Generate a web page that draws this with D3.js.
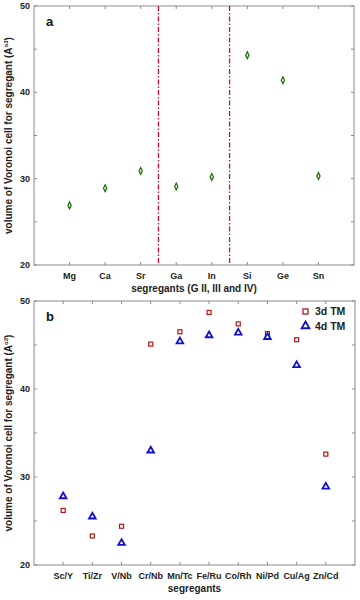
<!DOCTYPE html>
<html><head><meta charset="utf-8">
<script src="https://cdn.jsdelivr.net/npm/d3@7"></script>
<style>body{margin:0;background:#fff}svg{display:block}text{font-family:Arial,"Liberation Sans",sans-serif;font-weight:bold}</style>
</head><body><svg id="c" width="360" height="600"></svg>
<script>
const catsA = ["Mg","Ca","Sr","Ga","In","Si","Ge","Sn"];
const valsA = [26.9,28.9,30.9,29.1,30.2,44.3,41.4,30.3];
const dividersA = [3.5,5.5];
const catsB = ["Sc/Y","Ti/Zr","V/Nb","Cr/Nb","Mn/Tc","Fe/Ru","Co/Rh","Ni/Pd","Cu/Ag","Zn/Cd"];
const vals3d = [26.2,23.3,24.4,45.1,46.5,48.7,47.4,46.3,45.6,32.6];
const vals4d = [27.8,25.5,22.5,33.0,45.4,46.1,46.4,45.9,42.7,28.9];
const yTicks = [20,25,30,35,40,45,50];
const yLabels = [20,30,40,50];

const svg = d3.select("#c");
const axisCol = "#8a8a8a";

function panel(opts){
  const {top,bottom,left,right,n,cats,letter,xlabel} = opts;
  const x = d3.scaleLinear().domain([0,n+1]).range([left,right]);
  const y = d3.scaleLinear().domain([20,50]).range([bottom,top]);
  const g = svg.append("g");
  g.append("rect").attr("x",left).attr("y",top).attr("width",right-left).attr("height",bottom-top)
    .attr("fill","none").attr("stroke",axisCol).attr("stroke-width",1);
  const xs = d3.range(1,n+1);
  g.selectAll(".xtb").data(xs).join("line").attr("x1",d=>x(d)).attr("x2",d=>x(d))
    .attr("y1",bottom).attr("y2",bottom-3).attr("stroke",axisCol);
  g.selectAll(".xtt").data(xs).join("line").attr("x1",d=>x(d)).attr("x2",d=>x(d))
    .attr("y1",top).attr("y2",top+3).attr("stroke",axisCol);
  g.selectAll(".ytl").data(yTicks).join("line").attr("x1",left).attr("x2",left+3)
    .attr("y1",d=>y(d)).attr("y2",d=>y(d)).attr("stroke",axisCol);
  g.selectAll(".ytr").data(yTicks).join("line").attr("x1",right).attr("x2",right-3)
    .attr("y1",d=>y(d)).attr("y2",d=>y(d)).attr("stroke",axisCol);
  g.selectAll(".xl").data(cats).join("text").attr("x",(d,i)=>x(i+1)).attr("y",bottom+14)
    .attr("text-anchor","middle").attr("font-size",9).attr("fill","#222").text(d=>d);
  g.selectAll(".yl").data(yLabels).join("text").attr("x",left-4).attr("y",d=>y(d)+3)
    .attr("text-anchor","end").attr("font-size",9).attr("fill","#222").text(d=>d);
  g.append("text").attr("x",(left+right)/2).attr("y",bottom+27).attr("text-anchor","middle")
    .attr("font-size",10).attr("fill","#222").text(xlabel);
  const yl = g.append("text").attr("transform",`translate(12,${(top+bottom)/2}) rotate(-90)`)
    .attr("text-anchor","middle").attr("font-size",10).attr("fill","#222");
  yl.append("tspan").text("volume of Voronoi cell for segregant (A");
  yl.append("tspan").attr("font-size",6).attr("dy",-4).text("o3");
  yl.append("tspan").attr("dy",4).text(")");
  g.append("text").attr("x",left+12).attr("y",top+20).attr("font-size",13).attr("fill","#111").text(letter);
  return {g,x,y};
}

// Panel a
const A = panel({top:6,bottom:265,left:34,right:354,n:8,cats:catsA,letter:"a",xlabel:"segregants (G II, III and IV)"});
A.g.selectAll(".div").data(dividersA).join("line").attr("x1",d=>A.x(d)).attr("x2",d=>A.x(d))
  .attr("y1",A.y(50)).attr("y2",A.y(20)).attr("stroke","#c8102e").attr("stroke-width",1.3)
  .attr("stroke-dasharray","5,2,1.5,2");
A.g.selectAll(".dm").data(valsA).join("path")
  .attr("d",d3.symbol(d3.symbolDiamond,13))
  .attr("transform",(d,i)=>`translate(${A.x(i+1)},${A.y(d)}) scale(0.85,1)`)
  .attr("fill","none").attr("stroke","#1a6e00").attr("stroke-width",1.4);

// Panel b
const B = panel({top:301,bottom:565,left:34,right:355,n:10,cats:catsB,letter:"b",xlabel:"segregants"});
B.g.selectAll(".sq").data(vals3d).join("rect")
  .attr("x",(d,i)=>B.x(i+1)-2).attr("y",d=>B.y(d)-2).attr("width",4).attr("height",4)
  .attr("fill","none").attr("stroke","#b01818").attr("stroke-width",1.2);
const tri = d3.symbol(d3.symbolTriangle,19);
B.g.selectAll(".tr").data(vals4d).join("path").attr("d",tri)
  .attr("transform",(d,i)=>`translate(${B.x(i+1)},${B.y(d)})`)
  .attr("fill","#fff").attr("stroke","#1010c8").attr("stroke-width",1.8);
// legend
const lg = B.g.append("g");
lg.append("rect").attr("x",303).attr("y",309).attr("width",5).attr("height",5)
  .attr("fill","none").attr("stroke","#b01818").attr("stroke-width",1.3);
lg.append("path").attr("d",d3.symbol(d3.symbolTriangle,26)).attr("transform","translate(305.5,326)")
  .attr("fill","#fff").attr("stroke","#1010c8").attr("stroke-width",1.8);
lg.append("text").attr("x",315).attr("y",315).attr("font-size",10.5).attr("fill","#222").text("3d TM");
lg.append("text").attr("x",315).attr("y",330).attr("font-size",10.5).attr("fill","#222").text("4d TM");
</script></body></html>
